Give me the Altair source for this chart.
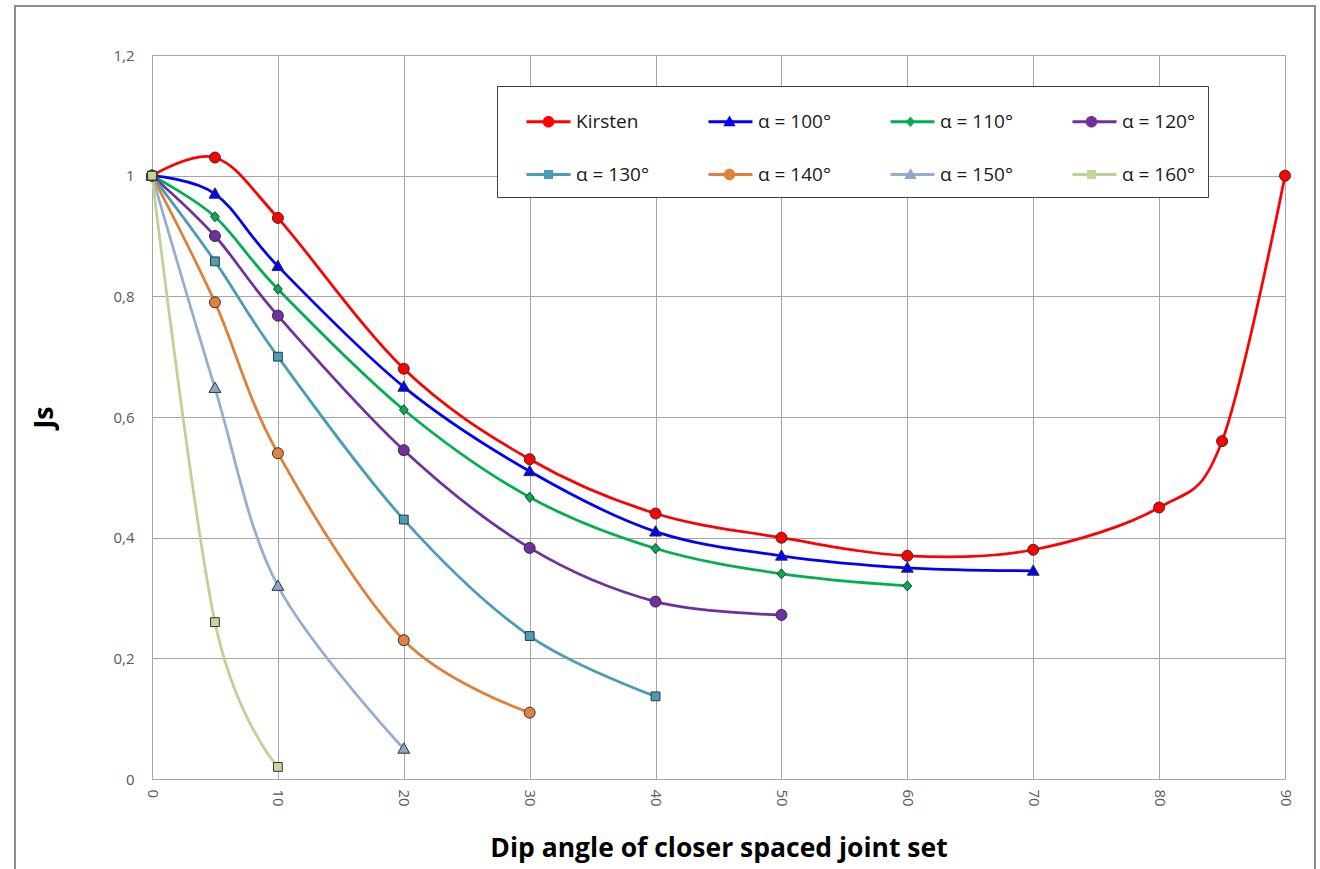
import altair as alt
import pandas as pd

# ---- data ----
series_names = ["Kirsten", "α = 100°", "α = 110°", "α = 120°",
                "α = 130°", "α = 140°", "α = 150°", "α = 160°"]

kirsten_x = [0, 5, 10, 20, 30, 40, 50, 60, 70, 80, 85, 90]
kirsten_y = [1.0, 1.03, 0.93, 0.68, 0.53, 0.44, 0.40, 0.37, 0.38, 0.45, 0.56, 1.0]

a100_x = [0, 5, 10, 20, 30, 40, 50, 60, 70]
a100_y = [1.0, 0.97, 0.85, 0.65, 0.51, 0.41, 0.37, 0.35, 0.345]

a110_x = [0, 5, 10, 20, 30, 40, 50, 60]
a110_y = [1.0, 0.932, 0.812, 0.612, 0.467, 0.382, 0.34, 0.32]

a120_x = [0, 5, 10, 20, 30, 40, 50]
a120_y = [1.0, 0.90, 0.768, 0.545, 0.383, 0.294, 0.272]

a130_x = [0, 5, 10, 20, 30, 40]
a130_y = [1.0, 0.858, 0.70, 0.43, 0.237, 0.137]

a140_x = [0, 5, 10, 20, 30]
a140_y = [1.0, 0.79, 0.54, 0.23, 0.11]

a150_x = [0, 5, 10, 20]
a150_y = [1.0, 0.648, 0.32, 0.05]

a160_x = [0, 5, 10]
a160_y = [1.0, 0.26, 0.02]

x_ticks = [0, 10, 20, 30, 40, 50, 60, 70, 80, 90]
y_ticks = [0, 0.2, 0.4, 0.6, 0.8, 1.0, 1.2]

line_colors = ["#FF0000", "#0000FF", "#00B050", "#7030A0",
               "#4A9DB6", "#E07F38", "#94AED3", "#B9D493"]
marker_fills = ["#FF0000", "#0000FF", "#00B050", "#7030A0",
                "#4A9DB6", "#E0823D", "#8EA4C8", "#C3D69B"]

# marker shapes (unit box -1..1); the "M-1,0ZM1,0Z" part only fixes the bounds
pad = "M-1,0ZM1,0Z"
circle = "M-0.25,0A0.25,0.25 0 1,0 0.25,0A0.25,0.25 0 1,0 -0.25,0Z" + pad
triangle = "M0,-0.27L0.27,0.2L-0.27,0.2Z" + pad
diamond = "M0,-0.23L0.2,0L0,0.23L-0.2,0Z" + pad
square = "M-0.2,-0.2L0.2,-0.2L0.2,0.2L-0.2,0.2Z" + pad
marker_shapes = [circle, triangle, diamond, circle, square, circle, triangle, square]

xs = [kirsten_x, a100_x, a110_x, a120_x, a130_x, a140_x, a150_x, a160_x]
ys = [kirsten_y, a100_y, a110_y, a120_y, a130_y, a140_y, a150_y, a160_y]

rows = []
for name, sx, sy in zip(series_names, xs, ys):
    for xv, yv in zip(sx, sy):
        rows.append({"series": name, "series_m": name, "dip": xv, "js": yv})
df = pd.DataFrame(rows)

FONT = "Open Sans"
W, H = 1133, 724
LEG_X, LEG_Y = 345, 31

common_leg = dict(title=None, orient="none", legendX=LEG_X, legendY=LEG_Y,
                  direction="horizontal", columns=4, rowPadding=19, padding=12,
                  symbolOffset=16, labelFont=FONT, labelFontSize=19, labelLimit=400)

x_enc = alt.X("dip:Q", scale=alt.Scale(domain=[0, 90], nice=False),
              axis=alt.Axis(values=x_ticks, labelAngle=90, labelPadding=10,
                            title="Dip angle of closer spaced joint set",
                            titlePadding=29))
y_enc = alt.Y("js:Q", scale=alt.Scale(domain=[0, 1.2], nice=False),
              axis=alt.Axis(values=y_ticks, labelPadding=18, title="Js",
                            titlePadding=54,
                            labelExpr="replace(format(datum.value, '.1~f'), '.', ',')"))

# legend 1: line samples, visible labels, white box
leg1 = alt.Legend(symbolType="stroke", symbolSize=1936, symbolStrokeWidth=3,
                  columnPadding=41, labelOffset=4, labelColor="#1a1a1a",
                  fillColor="white", strokeColor="#404040", **common_leg)
lines = alt.Chart(df).mark_line(interpolate="cardinal", strokeWidth=2.75).encode(
    x=x_enc, y=y_enc,
    stroke=alt.Stroke("series:N", scale=alt.Scale(range=line_colors), legend=leg1),
)

# legend 2: markers only, laid over the line samples
leg2 = alt.Legend(symbolSize=2116, symbolStrokeWidth=1, symbolStrokeColor="#333333",
                  columnPadding=116, labelOffset=0, labelExpr="''", **common_leg)
points = alt.Chart(df).mark_point(filled=True, size=1936, stroke="#333333",
                                  strokeWidth=1, opacity=1).encode(
    x="dip:Q", y="js:Q",
    fill=alt.Fill("series_m:N", scale=alt.Scale(range=marker_fills), legend=leg2),
    shape=alt.Shape("series_m:N", scale=alt.Scale(range=marker_shapes), legend=leg2),
)

frame = alt.Chart(pd.DataFrame({"k": [0]})).mark_rect(
    fillOpacity=0, stroke="#8c8c8c", strokeWidth=2).encode(
    x=alt.value(15 - 152), x2=alt.value(1315 - 152),
    y=alt.value(6 - 55), y2=alt.value(900))

chart = alt.layer(frame, lines, points).properties(
    width=W, height=H,
    autosize=alt.AutoSizeParams(type="none"),
    padding={"left": 152, "top": 55, "right": 35, "bottom": 90},
    background="white",
).configure_view(stroke="#A6A6A6", strokeWidth=1).configure_axis(
    grid=True, gridColor="#A6A6A6", gridWidth=1, domain=False, ticks=False,
    labelFont=FONT, labelFontSize=15, labelColor="#595959",
    titleFont=FONT, titleFontSize=26.5, titleFontWeight="bold", titleColor="#000000",
)

chart.save("out.html", embed_options={"renderer": "svg", "actions": False})
